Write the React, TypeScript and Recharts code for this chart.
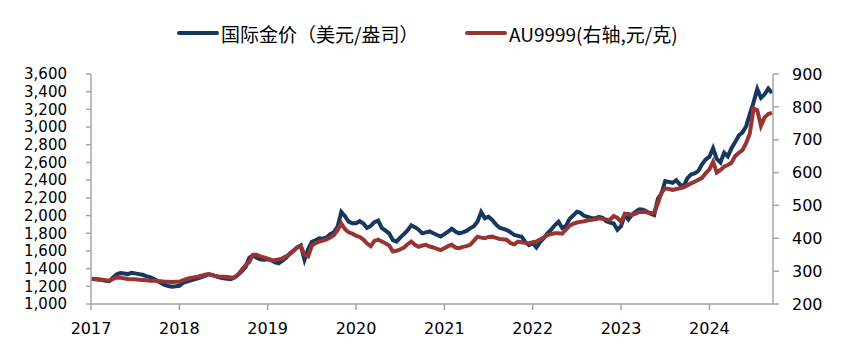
import { LineChart, Line, XAxis, YAxis, Legend } from 'recharts';

// half-monthly points, Jan 2017 -> Sep 2024
const gold = [
  1285, 1280, 1276, 1270, 1262, 1258, 1300, 1335, 1350, 1344, 1338, 1352,
  1346, 1338, 1330, 1315, 1305, 1284, 1262, 1238, 1216, 1204, 1196, 1200,
  1206, 1238, 1252, 1266, 1278, 1290, 1304, 1318, 1336, 1326, 1312, 1300,
  1292, 1285, 1280, 1302, 1332, 1372, 1420, 1522, 1552, 1522, 1506, 1500,
  1506, 1494, 1470, 1460, 1490, 1522, 1570, 1602, 1640, 1662, 1500, 1622,
  1702, 1720, 1742, 1738, 1752, 1790, 1812, 1874, 2040, 1992, 1930, 1914,
  1912, 1936, 1910, 1860, 1882, 1925, 1942, 1860, 1830, 1799, 1722, 1705,
  1750, 1790, 1832, 1890, 1868, 1840, 1799, 1810, 1820, 1800, 1780, 1762,
  1790, 1817, 1850, 1820, 1799, 1810, 1826, 1855, 1880, 1930, 2040, 1970,
  1985, 1950, 1900, 1862, 1850, 1836, 1810, 1780, 1770, 1760, 1700, 1665,
  1690, 1640, 1700, 1745, 1800, 1840, 1890, 1930, 1860, 1880, 1960, 2000,
  2043, 2030, 1995, 1985, 1970, 1968, 1985, 1975, 1935, 1920, 1910, 1840,
  1880, 2006, 1955, 2010, 2043, 2070, 2065, 2045, 2020, 2005, 2190, 2250,
  2390, 2380, 2370, 2400, 2350, 2330, 2420, 2465, 2477, 2505, 2580, 2635,
  2665, 2760, 2640, 2600, 2710, 2670, 2760, 2830, 2905, 2940, 3010, 3150,
  3280, 3430, 3330, 3370, 3435, 3385,
];

const au9999 = [
  277, 276, 275, 274, 272, 271, 276, 281, 280, 278, 276, 275,
  275, 274, 273, 272, 271, 271, 270, 269, 268, 268, 267, 268,
  268, 272, 276, 279, 281, 283, 286, 289, 291, 288, 285, 283,
  283, 282, 281, 281, 290, 305, 318, 328, 350, 350, 345, 342,
  338, 334, 333, 336, 339, 345, 352, 362, 372, 376, 350, 345,
  378, 385, 390, 393, 397, 402, 410, 425, 445, 428, 418, 414,
  408, 404, 396, 384, 376, 392, 396, 390, 385, 378, 360, 362,
  366, 372, 382, 390, 380, 374, 378, 380, 375, 372, 368, 364,
  370, 376, 380, 372, 370, 374, 376, 380, 392, 405, 402, 400,
  404, 405, 401, 398, 397, 395, 385, 382, 390, 388, 386, 385,
  388, 390, 396, 402, 410, 413, 415, 415, 414, 426, 438, 444,
  448, 450, 452, 455, 456, 458, 461, 459, 457, 456, 468, 462,
  450, 474, 474, 471, 475, 480, 481, 479, 476, 478, 506, 540,
  552, 550, 547, 550, 552, 555, 561, 567, 572, 578, 584, 598,
  610, 633, 600, 608, 618, 623, 630, 650, 660, 668, 690, 720,
  795, 790, 742, 768, 778, 782,
];

const yearTicks = [2017, 2018, 2019, 2020, 2021, 2022, 2023, 2024];
const leftTicks = [1000, 1200, 1400, 1600, 1800, 2000, 2200, 2400, 2600, 2800, 3000, 3200, 3400, 3600];
const rightTicks = [200, 300, 400, 500, 600, 700, 800, 900];

const goldName = '国际金价（美元/盎司）';
const auName = 'AU9999(右轴,元/克)';

const BLUE = '#17375e';
const RED = '#983532';
const AXIS = '#a6a6a6';

const data = gold.map((g, i) => ({ t: 2017 + i / 24, gold: g, au: au9999[i] }));

const tickFont = { fontFamily: 'DejaVu Sans', fontSize: 16, fill: '#000' };

function LegendBox() {
  const item = (color: string, label: string, w: number) => (
    <div style={{ display: 'flex', alignItems: 'center', width: w, flex: 'none' }}>
      <span style={{ display: 'inline-block', width: 42, height: 4, background: color, marginRight: 2, borderRadius: 2 }} />
      <span style={{ fontFamily: '"Noto Sans CJK SC"', fontSize: 19, color: '#000', whiteSpace: 'nowrap' }}>{label}</span>
    </div>
  );
  return (
    <div style={{ height: 56, paddingLeft: 177, display: 'flex', alignItems: 'flex-start' }}>
      <div style={{ display: 'flex', height: 30, alignItems: 'center' }}>
        {item(BLUE, goldName, 288)}
        {item(RED, auName, 260)}
      </div>
    </div>
  );
}

export default function App() {
  return (
    <div style={{ position: 'absolute', left: 0, top: 0, background: '#fff' }}>
      <LineChart width={849} height={363} data={data} margin={{ top: 18, right: 0, bottom: 19, left: 0 }}>
        <Legend verticalAlign="top" align="left" content={() => <LegendBox />} />
        <XAxis
          dataKey="t"
          type="number"
          domain={[2017, 2024.72]}
          ticks={yearTicks}
          tickFormatter={(v) => String(Math.round(v))}
          allowDataOverflow
          height={40}
          stroke={AXIS}
          strokeWidth={1.5}
          tickSize={6}
          tickMargin={13}
          tick={tickFont}
        />
        <YAxis
          yAxisId="left"
          domain={[1000, 3600]}
          ticks={leftTicks}
          interval={0}
          tickFormatter={(v) => v.toLocaleString('en-US')}
          width={91}
          stroke={AXIS}
          strokeWidth={1.5}
          tickSize={5}
          tickMargin={19}
          tick={{ ...tickFont, fontSize: 15 }}
        />
        <YAxis
          yAxisId="right"
          orientation="right"
          domain={[200, 900]}
          ticks={rightTicks}
          interval={0}
          width={76}
          stroke={AXIS}
          strokeWidth={1.5}
          tickSize={6}
          tickMargin={13}
          tick={{ ...tickFont, textAnchor: 'start' }}
        />
        <Line yAxisId="left" type="linear" dataKey="gold" name={goldName} stroke={BLUE} strokeWidth={4} dot={false} isAnimationActive={false} />
        <Line yAxisId="right" type="linear" dataKey="au" name={auName} stroke={RED} strokeWidth={4} dot={false} isAnimationActive={false} />
      </LineChart>
    </div>
  );
}
